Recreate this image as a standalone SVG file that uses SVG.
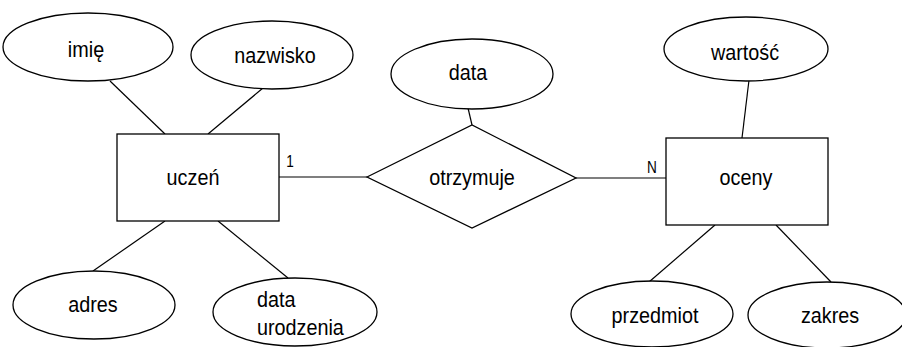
<svg xmlns="http://www.w3.org/2000/svg" width="902" height="347" viewBox="0 0 902 347">
  <style>
    .shape { fill: #ffffff; stroke: #000000; stroke-width: 1.3; }
    .conn { stroke: #000000; stroke-width: 1.2; fill: none; }
    .lbl { font-family: "Liberation Sans", Arial, sans-serif; font-size: 22px; fill: #000000; text-anchor: middle; }
    .lbl-l { font-family: "Liberation Sans", Arial, sans-serif; font-size: 22px; fill: #000000; text-anchor: start; }
    .card { font-family: "Liberation Sans", Arial, sans-serif; font-size: 16px; fill: #000000; text-anchor: middle; }
  </style>
  <rect width="902" height="347" fill="#ffffff"/>

  <!-- connectors -->
  <g id="connectors">
    <line class="conn" x1="110" y1="81" x2="165" y2="134"/>
    <line class="conn" x1="263" y1="88" x2="208" y2="134"/>
    <line class="conn" x1="165" y1="221" x2="93" y2="271"/>
    <line class="conn" x1="218" y1="221" x2="288" y2="278"/>
    <line class="conn" x1="279" y1="177" x2="367" y2="177"/>
    <line class="conn" x1="576" y1="178" x2="666" y2="178"/>
    <line class="conn" x1="468" y1="108" x2="472" y2="125"/>
    <line class="conn" x1="749" y1="80" x2="742" y2="138"/>
    <line class="conn" x1="715" y1="225" x2="649" y2="282"/>
    <line class="conn" x1="776" y1="225" x2="831" y2="282"/>
    <text class="card" transform="translate(290 167) scale(0.85 1)">1</text>
    <text class="card" transform="translate(652 173) scale(0.85 1)">N</text>
  </g>

  <!-- entity: uczeń -->
  <g id="uczen">
    <rect class="shape" x="117" y="134" width="162" height="87"/>
    <text class="lbl" transform="translate(193 185) scale(0.9 1)">uczeń</text>
  </g>

  <!-- entity: oceny -->
  <g id="oceny">
    <rect class="shape" x="666" y="138" width="162" height="87"/>
    <text class="lbl" transform="translate(746 185) scale(0.9 1)">oceny</text>
  </g>

  <!-- relationship: otrzymuje -->
  <g id="otrzymuje">
    <polygon class="shape" points="367,177 472,125 576,178 472,228"/>
    <text class="lbl" transform="translate(472 185) scale(0.9 1)">otrzymuje</text>
  </g>

  <!-- attributes -->
  <g id="imie">
    <ellipse class="shape" cx="88" cy="47" rx="85" ry="34"/>
    <text class="lbl" transform="translate(86 57) scale(0.9 1)">imię</text>
  </g>
  <g id="nazwisko">
    <ellipse class="shape" cx="272" cy="55" rx="81" ry="34"/>
    <text class="lbl" transform="translate(275 63) scale(0.9 1)">nazwisko</text>
  </g>
  <g id="data">
    <ellipse class="shape" cx="472" cy="74" rx="81" ry="35"/>
    <text class="lbl" transform="translate(468 80) scale(0.9 1)">data</text>
  </g>
  <g id="wartosc">
    <ellipse class="shape" cx="746" cy="49" rx="82" ry="32"/>
    <text class="lbl" transform="translate(745 60) scale(0.9 1)">wartość</text>
  </g>
  <g id="adres">
    <ellipse class="shape" cx="94" cy="305" rx="81" ry="34"/>
    <text class="lbl" transform="translate(93 312) scale(0.9 1)">adres</text>
  </g>
  <g id="data_urodzenia">
    <ellipse class="shape" cx="295" cy="312" rx="82" ry="34"/>
    <text class="lbl-l" transform="translate(257 307) scale(0.9 1)">data</text>
    <text class="lbl-l" transform="translate(257 335) scale(0.9 1)">urodzenia</text>
  </g>
  <g id="przedmiot">
    <ellipse class="shape" cx="652" cy="314" rx="81" ry="33"/>
    <text class="lbl" transform="translate(655 323) scale(0.9 1)">przedmiot</text>
  </g>
  <g id="zakres">
    <ellipse class="shape" cx="827" cy="315" rx="79" ry="33"/>
    <text class="lbl" transform="translate(830 323) scale(0.9 1)">zakres</text>
  </g>
</svg>
